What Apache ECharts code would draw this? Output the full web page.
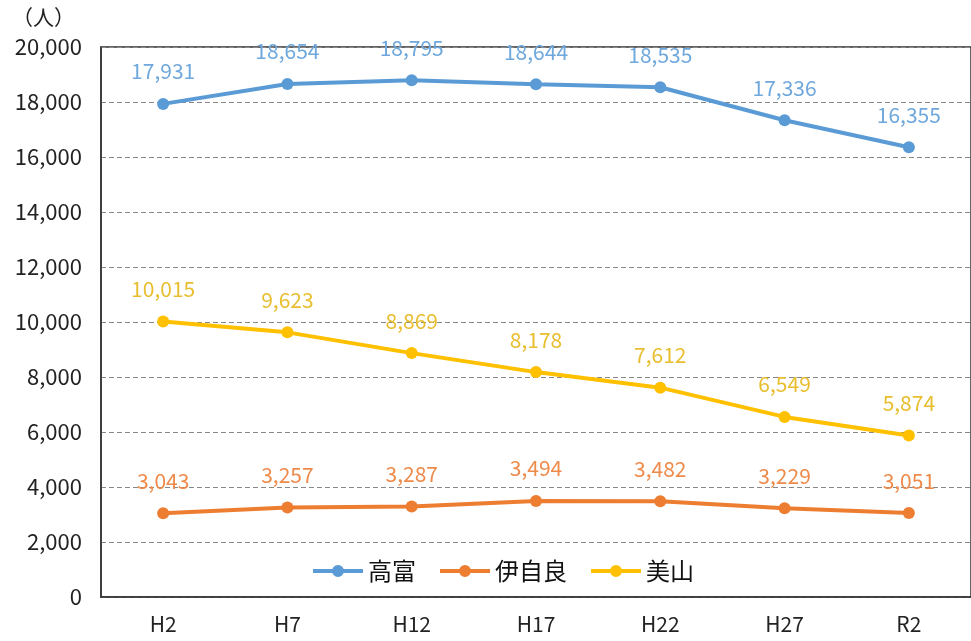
<!DOCTYPE html>
<html><head><meta charset="utf-8">
<script src="https://cdn.jsdelivr.net/npm/echarts@6/dist/echarts.min.js"></script>
<style>html,body{margin:0;padding:0;background:#fff}#c{width:971px;height:641px}</style>
</head><body><div id="c"></div>
<script>
const categories = ['H2','H7','H12','H17','H22','H27','R2'];
const takatomi = [17931, 18654, 18795, 18644, 18535, 17336, 16355];
const ijira = [3043, 3257, 3287, 3494, 3482, 3229, 3051];
const miyama = [10015, 9623, 8869, 8178, 7612, 6549, 5874];
const seriesNames = ['高富','伊自良','美山'];
const colors = ['#5B9BD5','#ED7D31','#FFC000'];
const labelColors = ['#6FA8DC','#EE8A4A','#E8BE2E'];
const FONT = '"Noto Sans CJK JP", "Noto Sans", sans-serif';
const legendIcon = 'path://M0,4L19.5,4L19.5,8L0,8Z M30.5,4L50,4L50,8L30.5,8Z M19,6A6,6 0 1,1 31,6A6,6 0 1,1 19,6Z';

const chart = echarts.init(document.getElementById('c'), null, {renderer:'canvas'});
function mk(name, data, i){
  return {
    name, type:'line', data,
    symbol:'circle', symbolSize:12,
    lineStyle:{width:4, color:colors[i]},
    itemStyle:{color:colors[i]},
    label:{show:true, position:'top', distance:16, color:labelColors[i], fontSize:21, fontFamily:FONT,
      formatter:p=>p.value.toLocaleString('en-US')},
    z: 3-i
  };
}
chart.setOption({
  animation:false,
  textStyle:{fontFamily:FONT},
  grid:{left:101, top:47, width:882, bottom:44, show:true, borderColor:'#333', borderWidth:1.5, containLabel:false},
  legend:{
    data:seriesNames.map(n=>({name:n, icon:legendIcon})), left:308, top:554, itemWidth:50, itemHeight:12, itemGap:24,
    textStyle:{fontSize:24, color:'#111', fontFamily:FONT}
  },
  xAxis:{
    type:'category', data:categories, boundaryGap:true,
    axisLine:{lineStyle:{color:'#333', width:1.5}},
    axisTick:{show:false},
    axisLabel:{color:'#222', fontSize:21, margin:17, fontFamily:FONT}
  },
  yAxis:{
    type:'value', min:0, max:20000, interval:2000,
    name:'（人）', nameLocation:'end', nameGap:19,
    nameTextStyle:{color:'#222', fontSize:21, align:'right', padding:[0,26,0,0], fontFamily:FONT},
    axisLine:{show:true, lineStyle:{color:'#333', width:1.5}},
    axisTick:{show:false},
    axisLabel:{color:'#222', fontSize:22, margin:19, fontFamily:FONT,
      formatter:v=>v.toLocaleString('en-US')},
    splitLine:{lineStyle:{color:'#888', type:[5,3], width:1}}
  },
  series:[mk(seriesNames[0],takatomi,0), mk(seriesNames[1],ijira,1), mk(seriesNames[2],miyama,2)]
});
</script></body></html>
